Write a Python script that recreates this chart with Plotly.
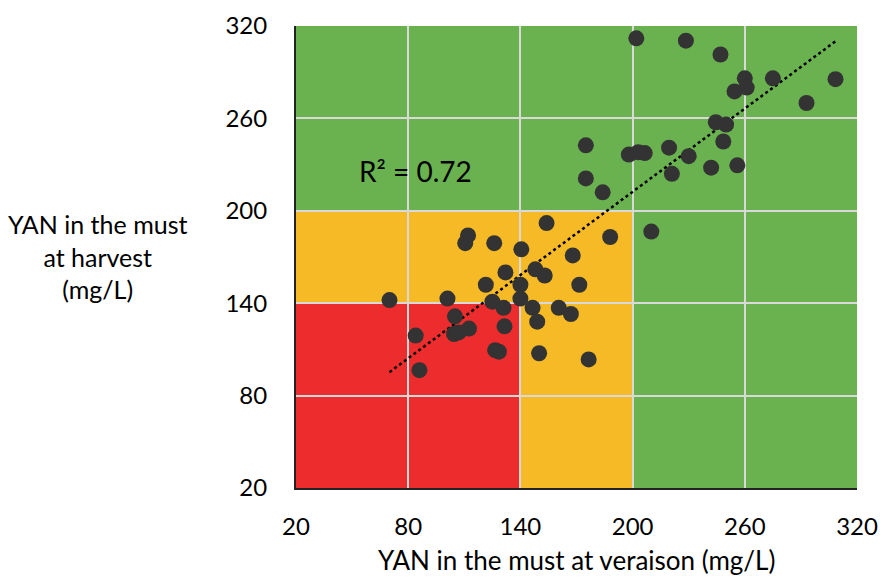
import numpy as np
import plotly.graph_objects as go

veraison = [70, 112, 110.5, 126, 140.5, 154, 168, 132, 148, 153, 121.5, 140, 171.5, 101, 125, 140,
            131, 146.5, 160.5, 167, 149, 105, 131.5, 112.5, 104.5, 107, 84, 126.5, 128.5, 150, 86,
            176.5, 188, 210,
            202, 228.5, 247, 260, 275, 308.5, 261, 254.5, 293, 244.5, 250, 248.5, 175, 198, 203,
            206.5, 219.5, 230, 221, 242, 256, 175, 184]
harvest = [142, 184, 179, 179, 175, 192, 171, 160, 162, 158, 152, 152, 152, 143, 141, 143,
           137, 137, 137, 133, 128, 131.5, 125, 123.5, 120, 121, 119, 109.5, 108.5, 107.5, 96.5,
           103.5, 183, 186.5,
           312, 310.5, 301.5, 286, 286, 285.5, 280, 277.5, 270, 257.5, 256, 245, 242.5, 236.5, 238,
           237.5, 241, 235.5, 224, 228, 229.5, 221, 212]

x_ticks = [20, 80, 140, 200, 260, 320]
y_ticks = [20, 80, 140, 200, 260, 320]
r2_text = "R² = 0.72"
x_title = "YAN in the must at veraison (mg/L)"
y_title = "YAN in the must<br>at harvest<br>(mg/L)"

GREEN = "#6ab150"
YELLOW = "#f6ba26"
RED = "#ec2c2d"
FONT = "Lato, 'Open Sans', sans-serif"

# plot area in page coords: x 296-857, y 26-488
PL, PR, PT, PB = 296, 857, 26, 488
W, H = 881, 578

fig = go.Figure()

zones = [
    (20, 320, 20, 320, GREEN),
    (20, 200, 20, 200, YELLOW),
    (20, 140, 20, 140, RED),
]
for x0, x1, y0, y1, c in zones:
    fig.add_shape(type="rect", xref="x", yref="y", x0=x0, x1=x1, y0=y0, y1=y1,
                  fillcolor=c, line_width=0, layer="below")

a, b = np.polyfit(veraison, harvest, 1)
xs = np.array([min(veraison), max(veraison)])
fig.add_trace(go.Scatter(x=xs, y=a * xs + b, mode="lines",
                         line=dict(color="black", width=2.5, dash="dot"),
                         hoverinfo="skip", showlegend=False))

fig.add_trace(go.Scatter(x=veraison, y=harvest, mode="markers",
                         marker=dict(size=16, color="#333333", line_width=0),
                         showlegend=False))

fig.add_annotation(x=84, y=226, xref="x", yref="y", text=r2_text, showarrow=False,
                   font=dict(size=28, color="black", family=FONT))

fig.add_annotation(x=(97 - PL) / (PR - PL), y=(PB - 256) / (PB - PT),
                   xref="paper", yref="paper", xanchor="center", yanchor="middle",
                   text=y_title, showarrow=False,
                   font=dict(size=25, color="black", family=FONT), align="center")

fig.add_annotation(x=0.5, y=(PB - 560) / (PB - PT),
                   xref="paper", yref="paper", xanchor="center", yanchor="middle",
                   text=x_title, showarrow=False,
                   font=dict(size=26, color="black", family=FONT))

fig.update_layout(
    width=W, height=H,
    margin=dict(l=PL, r=W - PR, t=PT, b=H - PB, autoexpand=False),
    paper_bgcolor="white", plot_bgcolor="white",
    font=dict(family=FONT, size=24, color="black"),
    showlegend=False,
)

fig.update_xaxes(range=[20, 320], tickvals=x_ticks, ticktext=[str(v) for v in x_ticks],
                 showgrid=True, gridcolor="#d9d9d9", gridwidth=1.5,
                 showline=True, linecolor="#222222", linewidth=2, zeroline=False,
                 ticks="", ticklabelstandoff=16, tickfont=dict(size=24),
                 automargin=False, ticklabeloverflow="allow")
fig.update_yaxes(range=[20, 320], tickvals=y_ticks, ticktext=[str(v) for v in y_ticks],
                 showgrid=True, gridcolor="#d9d9d9", gridwidth=1.5,
                 showline=True, linecolor="#222222", linewidth=2, zeroline=False,
                 ticks="", ticklabelstandoff=22, tickfont=dict(size=24),
                 automargin=False, ticklabeloverflow="allow")

fig.write_html("out.html", config={"displayModeBar": False},
               post_script="document.body.style.margin='0';document.body.style.overflow='hidden';")
